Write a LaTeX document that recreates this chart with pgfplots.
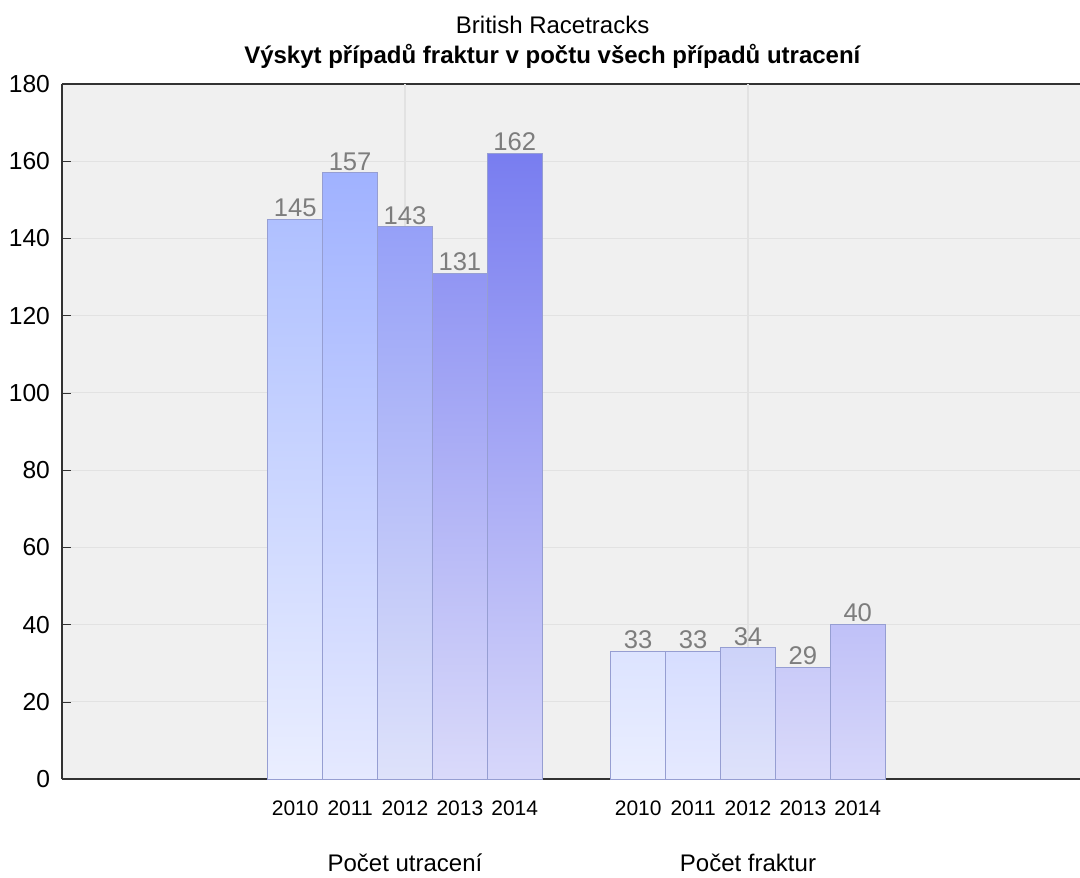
\documentclass[border=0pt]{standalone}
\usepackage{pgfplots}
\pgfplotsset{compat=1.18}
\usepackage{fontspec}
\setmainfont{Liberation Sans}

% colour at value 0 (B) and at value 180 (F), one pair per year
\definecolor{B10}{RGB}{234,238,255}\definecolor{F10}{RGB}{161,181,255}
\definecolor{B11}{RGB}{229,233,255}\definecolor{F11}{RGB}{150,170,255}
\definecolor{B12}{RGB}{222,226,250}\definecolor{F12}{RGB}{131,143,247}
\definecolor{B13}{RGB}{218,218,250}\definecolor{F13}{RGB}{118,124,240}
\definecolor{B14}{RGB}{215,215,250}\definecolor{F14}{RGB}{110,115,239}
\definecolor{edge}{RGB}{150,158,210}
\definecolor{bg}{RGB}{240,240,240}
\definecolor{gridc}{RGB}{226,226,226}
\definecolor{lbl}{RGB}{125,125,125}
\definecolor{axc}{RGB}{50,50,50}

\begin{document}
\begin{tikzpicture}
\begin{axis}[
    scale only axis,
    width=509pt, height=347.5pt,
    xmin=-1.0, xmax=1.968,
    ymin=0, ymax=180,
    ytick={0,20,...,180},
    axis x line*=box, axis y line*=left,
    axis line style={axc, line width=0.8pt},
    axis background/.style={fill=bg},
    ymajorgrids, grid style={gridc, line width=0.6pt},
    major tick style={axc},
    ytick pos=left, xtick pos=bottom,
    xtick={-0.32,-0.16,0,0.16,0.32,0.68,0.84,1,1.16,1.32},
    xticklabels={2010,2011,2012,2013,2014,2010,2011,2012,2013,2014},
    x tick style={draw=none},
    x tick label style={font=\fontsize{10.5}{12}\selectfont, yshift=-7.5pt},
    y tick label style={font=\fontsize{12.3}{14}\selectfont, xshift=-2.5pt},
    /pgf/number format/assume math mode=true,
    extra x ticks={0,1},
    extra x tick labels={Počet utracení, Počet fraktur},
    extra x tick style={xmajorgrids=true, major tick length=4pt,
        x tick style={draw=axc},
        x tick label style={font=\fontsize{12}{14}\selectfont, yshift=-26.5pt}},
    title={British Racetracks\\\textbf{Výskyt případů fraktur v počtu všech případů utracení}},
    title style={align=center, font=\fontsize{12}{15}\selectfont,
        at={(0.482,1)}, anchor=south, inner sep=0pt, yshift=1.8pt},
    bar width=0.16,
    nodes near coords,
    every node near coord/.style={font=\fontsize{12.8}{14}\selectfont,
        text=lbl, anchor=south, inner sep=1pt, fill=none, draw=none},
]
% Počet utracení
\addplot[ybar, draw=edge, bottom color=B10, top color=F10!80.6!B10] coordinates {(-0.32,145)};
\addplot[ybar, draw=edge, bottom color=B11, top color=F11!87.2!B11] coordinates {(-0.16,157)};
\addplot[ybar, draw=edge, bottom color=B12, top color=F12!79.4!B12] coordinates {(0,143)};
\addplot[ybar, draw=edge, bottom color=B13, top color=F13!72.8!B13] coordinates {(0.16,131)};
\addplot[ybar, draw=edge, bottom color=B14, top color=F14!90!B14] coordinates {(0.32,162)};
% Počet fraktur
\addplot[ybar, draw=edge, bottom color=B10, top color=F10!18.3!B10] coordinates {(0.68,33)};
\addplot[ybar, draw=edge, bottom color=B11, top color=F11!18.3!B11] coordinates {(0.84,33)};
\addplot[ybar, draw=edge, bottom color=B12, top color=F12!18.9!B12] coordinates {(1,34)};
\addplot[ybar, draw=edge, bottom color=B13, top color=F13!16.1!B13] coordinates {(1.16,29)};
\addplot[ybar, draw=edge, bottom color=B14, top color=F14!22.2!B14] coordinates {(1.32,40)};
\end{axis}
\pgfresetboundingbox
\path ([xshift=-31pt,yshift=-49pt]current axis.south west)
    rectangle ([yshift=42pt]current axis.north east);
\end{tikzpicture}
\end{document}
